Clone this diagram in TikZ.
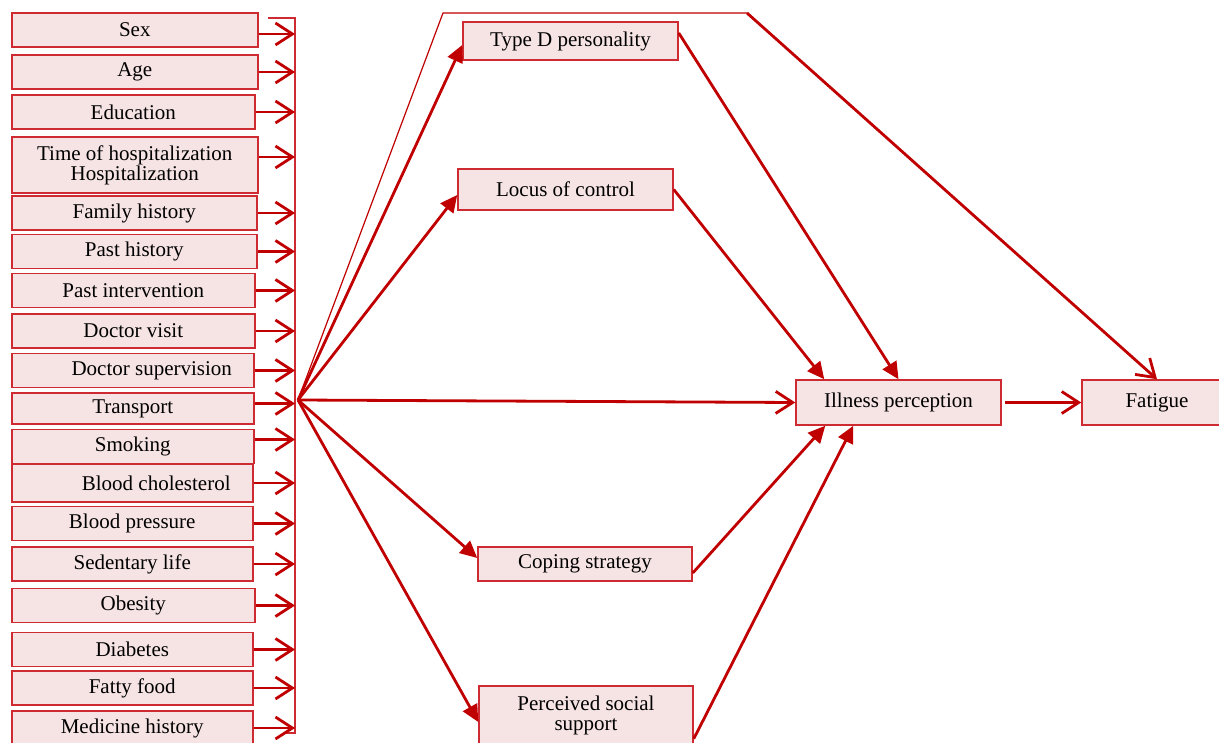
\documentclass[tikz,border=0pt]{standalone}
\usepackage{fontspec}
\setmainfont{Liberation Serif}
\usepackage{tikz}
\usetikzlibrary{arrows.meta}
\definecolor{linkred}{RGB}{192,0,0}
\definecolor{boxred}{RGB}{206,42,50}
\definecolor{boxpink}{RGB}{246,227,228}
\tikzstyle{factor}=[rectangle, draw=boxred, fill=boxpink, line width=0.75pt, inner sep=0pt, anchor=west, minimum width=121pt, minimum height=17pt, align=center, font=\fontsize{10.5}{10}\selectfont]
\tikzstyle{var}=[rectangle, draw=boxred, fill=boxpink, line width=0.75pt, inner sep=0pt, minimum width=107.5pt, minimum height=19pt, align=center, font=\fontsize{10.5}{10}\selectfont]
\tikzstyle{feed}=[line width=1.4pt, draw=linkred, -{Straight Barb[length=8.5pt,width=11pt]}]
\tikzstyle{effect}=[line width=1.4pt, draw=linkred, -{Triangle[length=8.5pt,width=8pt]}]
\tikzstyle{openeffect}=[line width=1.4pt, draw=linkred, -{Straight Barb[length=8.5pt,width=11pt]}]
\tikzstyle{bracket}=[line width=0.7pt, draw=boxred]
\tikzstyle{thinlink}=[line width=0.6pt, draw=linkred]

\begin{document}
\begin{tikzpicture}[x=0.5pt,y=-0.5pt]
				\useasboundingbox (0,0) rectangle (1219,743);

				%The background factors
				\draw (11,30) node[factor,minimum width=123pt] (sex) {Sex};
				\draw (11,72) node[factor,minimum width=123pt] (age) {Age};
				\draw (11,112) node[factor,minimum width=121.5pt] (edu) {Education};
				\draw (11,165) node[factor,minimum width=123pt,minimum height=28pt] (time) {Time of hospitalization\\Hospitalization};
				\draw (11,213) node[factor,minimum width=122.5pt] (family) {Family history};
				\draw (11,251.5) node[factor,minimum width=122.5pt] (past) {Past history};
				\draw (11,290.5) node[factor,minimum width=121.5pt] (interv) {Past intervention};
				\draw (11,331) node[factor,minimum width=121.5pt] (visit) {Doctor visit};
				\draw (11,370.5) node[factor] (superv) {\hspace*{19pt}Doctor supervision};
				\draw (11,408.5) node[factor,minimum height=15.5pt] (transp) {Transport};
				\draw (11,446.5) node[factor] (smoke) {Smoking};
				\draw (11,483) node[factor,minimum width=120.5pt,minimum height=19pt] (chol) {\hspace*{24pt}Blood cholesterol};
				\draw (11,523.5) node[factor,minimum width=120.5pt] (bp) {Blood pressure};
				\draw (11,564) node[factor,minimum width=120.5pt] (sedent) {Sedentary life};
				\draw (11,605.5) node[factor,minimum width=121.5pt] (obes) {Obesity};
				\draw (11,649.5) node[factor,minimum width=120.5pt] (diab) {Diabetes};
				\draw (11,688) node[factor,minimum width=120.5pt] (fatty) {Fatty food};
				\draw (11,728) node[factor,minimum width=120.5pt] (medic) {Medicine history};

				%The bracket and the hub
				\coordinate (btop) at (295,18);
				\coordinate (bbot) at (295,733);
				\coordinate (hub) at (298,400);
				\draw[bracket] (268,18) -- (btop) -- (bbot) -- (285,733);

				\draw[feed] ([yshift=-2pt]sex.east) -- ([yshift=-2pt]sex.east -| btop);
				\draw[feed] (age.east) -- (age.east -| btop);
				\draw[feed] (edu.east) -- (edu.east -| btop);
				\draw[feed] ([yshift=4pt]time.east) -- ([yshift=4pt]time.east -| btop);
				\draw[feed] (family.east) -- (family.east -| btop);
				\draw[feed] (past.east) -- (past.east -| btop);
				\draw[feed] (interv.east) -- (interv.east -| btop);
				\draw[feed] (visit.east) -- (visit.east -| btop);
				\draw[feed] (superv.east) -- (superv.east -| btop);
				\draw[feed] ([yshift=2.5pt]transp.east) -- ([yshift=2.5pt]transp.east -| btop);
				\draw[feed] ([yshift=3.5pt]smoke.east) -- ([yshift=3.5pt]smoke.east -| btop);
				\draw[feed] (chol.east) -- (chol.east -| btop);
				\draw[feed] (bp.east) -- (bp.east -| btop);
				\draw[feed] (sedent.east) -- (sedent.east -| btop);
				\draw[feed] (obes.east) -- (obes.east -| btop);
				\draw[feed] (diab.east) -- (diab.east -| btop);
				\draw[feed] (fatty.east) -- (fatty.east -| btop);
				\draw[feed] (medic.east) -- (medic.east -| btop);

				%The mediators
				\draw (570.5,41) node[var] (typed) {Type D personality};
				\draw (565.5,189.5) node[var,minimum height=20.5pt] (locus) {Locus of control};
				\draw (585,564) node[var,minimum width=107pt,minimum height=17pt] (coping) {Coping strategy};
				\draw (586,715) node[var,minimum width=107pt,minimum height=29pt] (support) {Perceived social\\support};

				%The outcomes
				\draw (898.5,402.5) node[var,minimum width=102.5pt,minimum height=22.5pt] (illness) {Illness perception};
				\draw (1157,402.5) node[var,minimum width=75pt,minimum height=22.5pt] (fatigue) {Fatigue};

				\draw[effect] (hub) -- ([yshift=-2pt]typed.west);
				\draw[effect] (hub) -- ([yshift=-2.75pt]locus.west);
				\draw[openeffect] (hub) -- (illness.west);
				\draw[effect] (hub) -- ([yshift=3pt]coping.west);
				\draw[effect] (hub) -- ([yshift=-3.5pt]support.west);

				\coordinate (top1) at (443,13);
				\coordinate (top2) at (747,13);
				\draw[thinlink] (hub) -- (top1) -- (top2);
				\draw[openeffect] (top2) -- (fatigue.north);

				\draw[effect] ([yshift=4pt]typed.east) -- (illness.north);
				\draw[effect] (locus.east) -- ([xshift=14.5pt]illness.north west);
				\draw[effect] ([yshift=-4.5pt]coping.east) -- ([xshift=15pt]illness.south west);
				\draw[effect] ([yshift=3pt]support.south east) -- ([xshift=29pt]illness.south west);
				\draw[openeffect,shorten <=1.5pt] (illness.east) -- (fatigue.west);
			\end{tikzpicture}
\end{document}
